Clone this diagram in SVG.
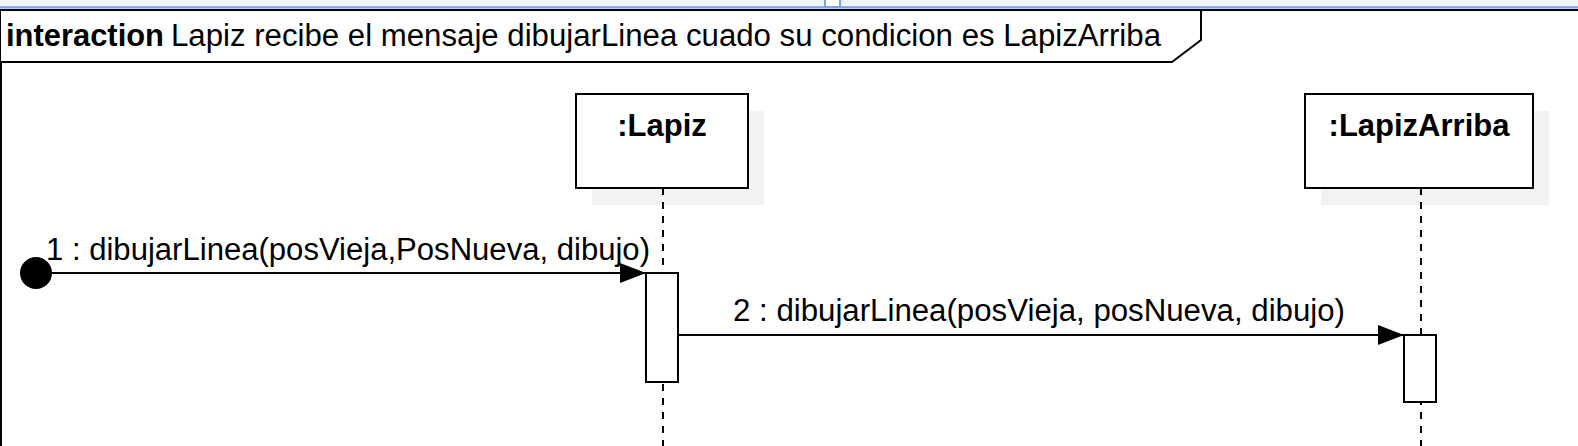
<svg xmlns="http://www.w3.org/2000/svg" width="1578" height="446" viewBox="0 0 1578 446">
  <style>
    text { font-family: "Liberation Sans", Arial, sans-serif; font-size: 31px; fill: #000; }
    .b { font-weight: bold; }
    .box { fill: #fff; stroke: #000; stroke-width: 2; }
    .shadow { fill: #f2f2f2; stroke: none; }
    .life { stroke: #000; stroke-width: 2; stroke-dasharray: 7 7; fill: none; }
    .msg { stroke: #000; stroke-width: 2; fill: none; }
  </style>
  <defs>
    <marker id="arrow" markerWidth="26" markerHeight="20" refX="26" refY="10" orient="auto" markerUnits="userSpaceOnUse">
      <path d="M0,0 L26,10 L0,20 Z" fill="#000"/>
    </marker>
  </defs>
  <rect x="0" y="0" width="1578" height="446" fill="#fff"/>
  <!-- top strip -->
  <rect x="0" y="0" width="1578" height="6.5" fill="#eef4fe"/>
  <line x1="0" y1="7.3" x2="1578" y2="7.3" stroke="#6ea6f2" stroke-width="2.2"/>
  <rect x="825" y="-2" width="15" height="9" fill="#fff" stroke="#6ea6f2" stroke-width="2"/>

  <g id="frame">
    <rect x="1" y="10" width="1600" height="460" fill="none" stroke="#000" stroke-width="2"/>
    <path d="M1,10 H1201 V40 L1172,62 H1" fill="#fff" stroke="#000" stroke-width="2"/>
    <text x="6" y="46" class="b" textLength="158" lengthAdjust="spacingAndGlyphs">interaction</text>
    <text x="171" y="46" textLength="990" lengthAdjust="spacingAndGlyphs">Lapiz recibe el mensaje dibujarLinea cuado su condicion es LapizArriba</text>
  </g>

  <g id="lapiz">
    <rect class="shadow" x="592" y="111" width="172" height="94"/>
    <rect class="box" x="576" y="94" width="172" height="94"/>
    <text x="662" y="136" class="b" text-anchor="middle">:Lapiz</text>
    <line class="life" x1="663" y1="188" x2="663" y2="446"/>
    <rect class="box" x="646" y="273" width="32" height="109"/>
  </g>

  <g id="lapizArriba">
    <rect class="shadow" x="1321" y="111" width="228" height="94"/>
    <rect class="box" x="1305" y="94" width="228" height="94"/>
    <text x="1419" y="136" class="b" text-anchor="middle">:LapizArriba</text>
    <line class="life" x1="1421" y1="188" x2="1421" y2="446"/>
    <rect class="box" x="1404" y="335" width="32" height="67"/>
  </g>

  <g id="start">
    <circle cx="36" cy="273" r="16" fill="#000"/>
  </g>

  <g id="connectors">
    <line class="msg" x1="36" y1="273" x2="646" y2="273" marker-end="url(#arrow)"/>
    <text x="46" y="260" textLength="604" lengthAdjust="spacingAndGlyphs">1 : dibujarLinea(posVieja,PosNueva, dibujo)</text>
    <line class="msg" x1="678" y1="335" x2="1404" y2="335" marker-end="url(#arrow)"/>
    <text x="733" y="321" textLength="612" lengthAdjust="spacingAndGlyphs">2 : dibujarLinea(posVieja, posNueva, dibujo)</text>
  </g>
</svg>
